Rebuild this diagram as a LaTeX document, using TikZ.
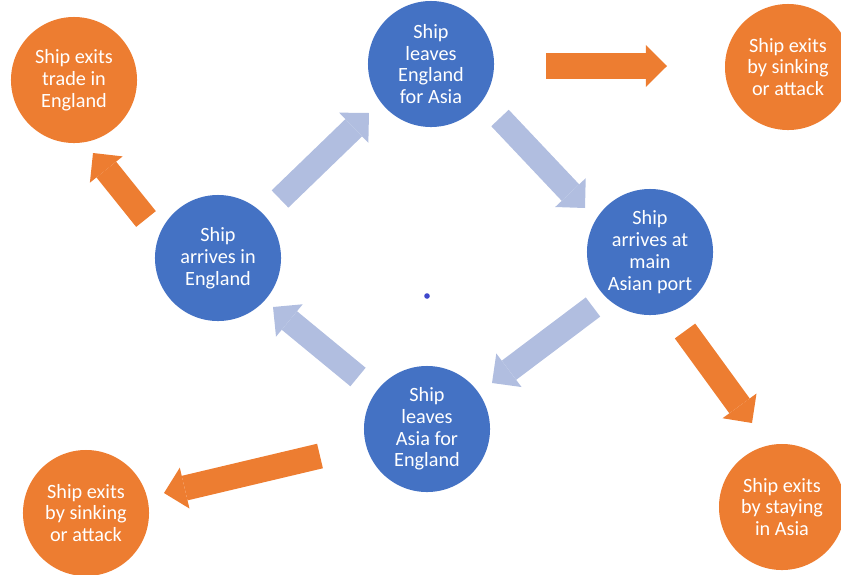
\documentclass[tikz,border=0pt]{standalone}
\usepackage{fontspec}
\setmainfont{Carlito}
\usetikzlibrary{arrows.meta}
\definecolor{cycblue}{RGB}{68,114,196}
\definecolor{exitorange}{RGB}{237,125,49}
\definecolor{flowblue}{RGB}{177,190,224}
\definecolor{dotblue}{RGB}{63,72,204}
\tikzset{
  stage/.style    ={circle, fill=cycblue, text=white, minimum size=3.15cm, inner sep=0pt,
                    align=center, font=\fontsize{14.4}{15.5}\selectfont},
  exitstage/.style={stage, fill=exitorange},
  cycarrow/.style ={flowblue, line width=0.6cm, -{Triangle[length=0.53cm, width=1.05cm, line width=0pt]}},
  outarrow/.style ={cycarrow, exitorange, line width=0.63cm},
}

\begin{document}
\begin{tikzpicture}[x=0.025cm, y=-0.025cm]
  \useasboundingbox (0,0) rectangle (841,574);

  % the trade cycle
  \node[stage] (leaveEng)   at (431,64)  {Ship\\leaves\\England\\for Asia};
  \node[stage] (arriveAsia) at (650,252) {Ship\\arrives at\\main\\Asian port};
  \node[stage] (leaveAsia)  at (427,429) {Ship\\leaves\\Asia for\\England};
  \node[stage] (arriveEng)  at (218,258) {Ship\\arrives in\\England};

  % ways out of the trade
  \node[exitstage] (exitTrade) at (74,80)   {Ship exits\\trade in\\England};
  \node[exitstage] (exitSinkA) at (788,67)  {Ship exits\\by sinking\\or attack};
  \node[exitstage] (exitStay)  at (782,507) {Ship exits\\by staying\\in Asia};
  \node[exitstage] (exitSinkB) at (86,513)  {Ship exits\\by sinking\\or attack};

  \fill[dotblue] (427,296) circle (0.07cm);

  % arrow ends
  \coordinate (c1a) at (280,199); \coordinate (c1b) at (369,113);
  \coordinate (c2a) at (500,118); \coordinate (c2b) at (585,208);
  \coordinate (c3a) at (593,307); \coordinate (c3b) at (492,383);
  \coordinate (c4a) at (358,377); \coordinate (c4b) at (273,307);
  \coordinate (o1a) at (546,66);  \coordinate (o1b) at (667,66);
  \coordinate (o2a) at (146,219); \coordinate (o2b) at (93,153);
  \coordinate (o3a) at (320,456); \coordinate (o3b) at (164,493);
  \coordinate (o4a) at (685,331); \coordinate (o4b) at (752,423);

  \draw[cycarrow] (c1a) -- (c1b);
  \draw[cycarrow] (c2a) -- (c2b);
  \draw[cycarrow] (c3a) -- (c3b);
  \draw[cycarrow] (c4a) -- (c4b);

  \draw[outarrow] (o1a) -- (o1b);
  \draw[outarrow] (o2a) -- (o2b);
  \draw[outarrow] (o3a) -- (o3b);
  \draw[outarrow] (o4a) -- (o4b);
\end{tikzpicture}
\end{document}
